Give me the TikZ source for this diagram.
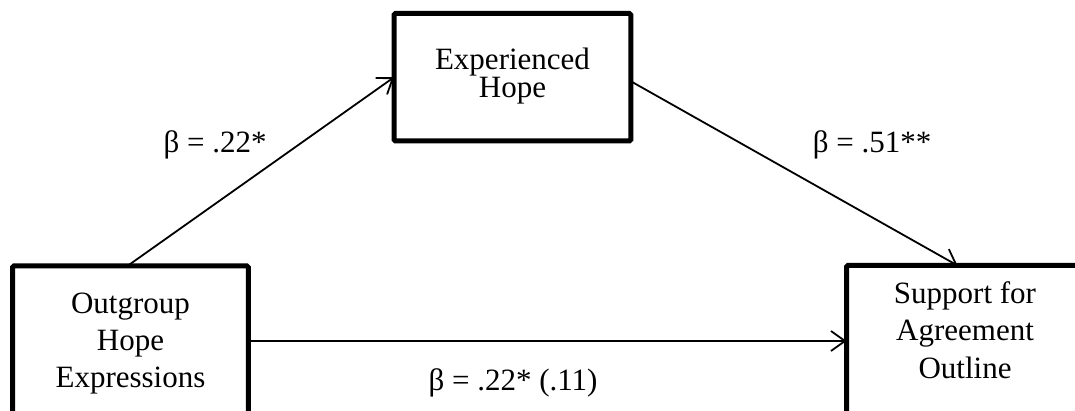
\documentclass[tikz,border=0pt]{standalone}
\usepackage{fontspec}
\setmainfont{Liberation Serif}
\usetikzlibrary{arrows.meta,calc}
\begin{document}
\begin{tikzpicture}[x=1pt,y=-1pt,
  boxnode/.style={draw=black,line width=5pt,rounded corners=1.5pt,inner sep=0pt,outer sep=0pt},
  txt/.style={anchor=base,inner sep=0pt,font=\fontsize{31}{31}\selectfont},
  conn/.style={line width=1.8pt,-{Straight Barb[length=14pt,width=20pt,line width=1.8pt]}}]
\clip (0,0) rectangle (1075,411);
\fill[white] (0,0) rectangle (1075,411);
% boxes
\node[boxnode,minimum width=235.8pt,minimum height=184pt] (left) at (130.4,358) {};
\node[boxnode,minimum width=236.8pt,minimum height=127.5pt] (top) at (512.4,77.25) {};
\node[boxnode,minimum width=236pt,minimum height=184pt] (right) at (964.5,357.5) {};
% texts
\node[txt] (t1) at (512.5,70) {Experienced};
\node[txt] (t2) at (512.5,98) {Hope};
\node[txt] (l1) at (130.5,313) {Outgroup};
\node[txt] (l2) at (130.5,350) {Hope};
\node[txt] (l3) at (130.5,387) {Expressions};
\node[txt] (r1) at (965,303) {Support for};
\node[txt] (r2) at (965,340) {Agreement};
\node[txt] (r3) at (965,378) {Outline};
% labels
\node[txt] (b1) at (215,153) {β = .22*};
\node[txt] (b2) at (872,153) {β = .51**};
\node[txt] (b3) at (513,390) {β = .22* (.11)};
% connectors
\coordinate (h) at (0,341);
\coordinate (a1s) at ($(left.north)+(-3,0)$);
\coordinate (a2s) at ($(top.east)+(0,4)$);
\coordinate (a2e) at ($(right.north west)+(111,0)$);
\draw[conn] (a1s) -- (top.west);
\draw[conn] (a2s) -- (a2e);
\draw[conn] (left.east |- h) -- (right.west |- h);
\end{tikzpicture}
\end{document}
